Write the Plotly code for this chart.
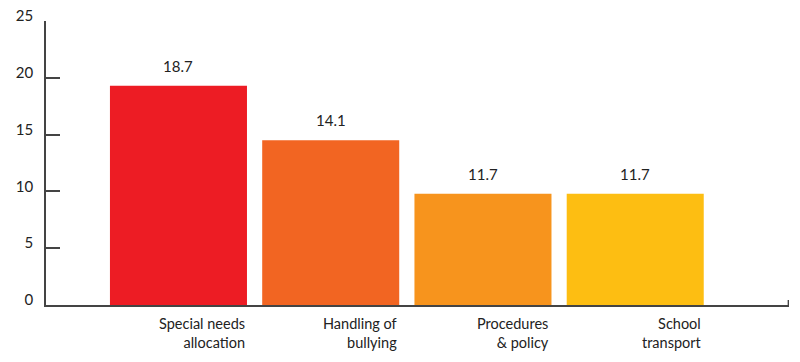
import plotly.graph_objects as go

categories = ["Special needs<br>allocation", "Handling of<br>bullying", "Procedures<br>& policy", "School<br>transport"]
bar_heights = [19.3, 14.5, 9.8, 9.8]
value_labels = ["18.7", "14.1", "11.7", "11.7"]
colors = ["#ED1C24", "#F26522", "#F7941D", "#FDBE12"]
y_ticks = [0, 5, 10, 15, 20, 25]

FONT = "Lato"
idx = list(range(len(categories)))

fig = go.Figure(go.Bar(
    x=idx, y=bar_heights, marker=dict(color=colors, line=dict(width=0)),
    hoverinfo="skip",
))

annotations = []
for i, (h, lab, cat) in enumerate(zip(bar_heights, value_labels, categories)):
    annotations.append(dict(x=i, y=h, xref="x", yref="y", text=lab, showarrow=False,
                            yanchor="bottom", yshift=9,
                            font=dict(family=FONT, size=15, color="#222")))
    annotations.append(dict(x=i + 0.45, y=0, xref="x", yref="y", text=cat, showarrow=False,
                            xanchor="right", yanchor="top", align="right", yshift=-8,
                            font=dict(family=FONT, size=14.5, color="#222")))

x_end = 4.01
fig.update_layout(
    width=800, height=362,
    margin=dict(l=46, r=11, t=21, b=57, autoexpand=False),
    paper_bgcolor="white", plot_bgcolor="white",
    bargap=0.1, showlegend=False,
    annotations=annotations,
    shapes=[dict(type="line", xref="x", yref="y", x0=x_end - 0.004, x1=x_end - 0.004, y0=0, y1=0.45,
                 layer="above", line=dict(color="#444", width=1.5))],
    xaxis=dict(range=[-0.87, x_end], showgrid=False, zeroline=False, automargin=False,
               showline=True, linecolor="#444", linewidth=1.5, showticklabels=False),
    yaxis=dict(range=[0, 25], showgrid=False, zeroline=False, automargin=False,
               showline=True, linecolor="#444", linewidth=1.5,
               tickmode="array", tickvals=y_ticks,
               ticks="inside", ticklen=14, tickcolor="#444", tickwidth=1.5,
               ticklabelstandoff=8, ticklabelshift=-5,
               tickfont=dict(family=FONT, size=15, color="#222")),
)

fig.write_html("out.html", config={"displayModeBar": False},
               post_script="document.body.style.margin='0';document.body.style.overflow='hidden';")
